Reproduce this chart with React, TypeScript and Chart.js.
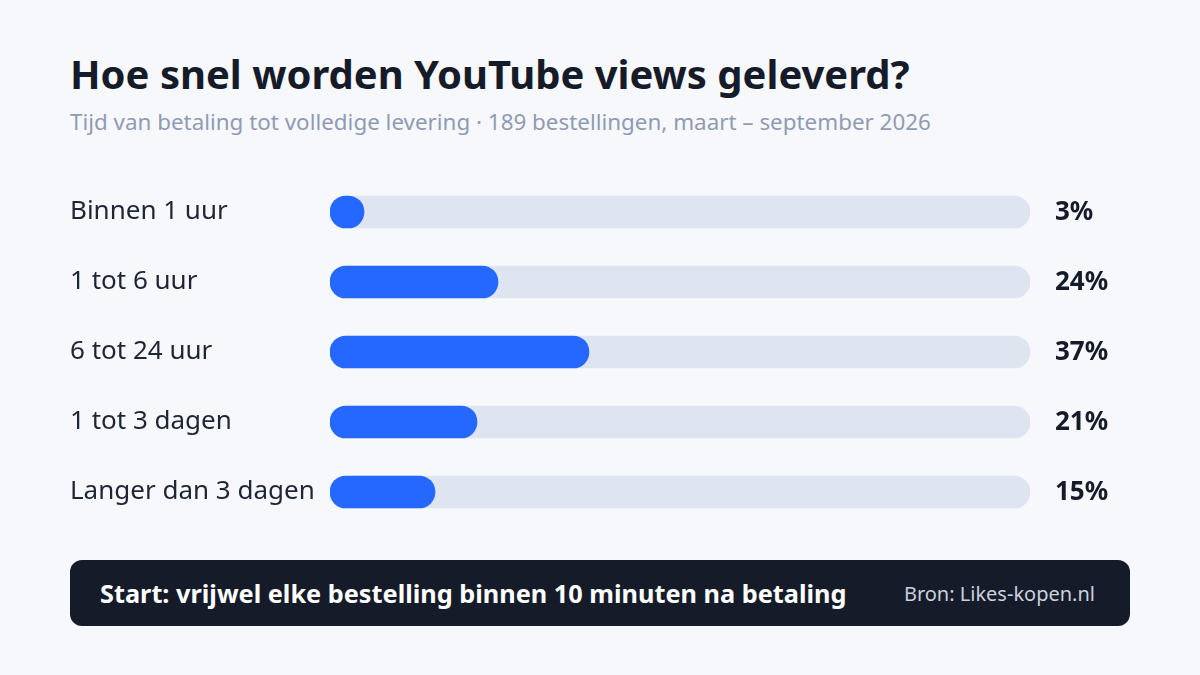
import React, { useEffect, useRef } from "react";
import { Chart, registerables } from "chart.js";

Chart.register(...registerables);

const categories = ["Binnen 1 uur", "1 tot 6 uur", "6 tot 24 uur", "1 tot 3 dagen", "Langer dan 3 dagen"];
const shares = [3, 24, 37, 21, 15];
const trackValues = [100, 100, 100, 100, 100];
const valueLabels = ["3%", "24%", "37%", "21%", "15%"];

const FONT = "'Noto Sans', 'Open Sans', sans-serif";

export default function App() {
  const ref = useRef<HTMLCanvasElement | null>(null);

  useEffect(() => {
    document.body.style.margin = "0";
    const canvas = ref.current;
    if (!canvas) return;

    const valuePlugin = {
      id: "valueLabels",
      afterDatasetsDraw(chart: any) {
        const ctx = chart.ctx;
        const meta = chart.getDatasetMeta(0);
        ctx.save();
        ctx.font = `700 26px ${FONT}`;
        ctx.fillStyle = "#161b29";
        ctx.textAlign = "left";
        ctx.textBaseline = "middle";
        meta.data.forEach((el: any, i: number) => {
          ctx.fillText(valueLabels[i], chart.chartArea.right + 25, el.y + 1);
        });
        ctx.restore();
      },
    };

    const chart = new Chart(canvas, {
      type: "bar",
      data: {
        labels: categories,
        datasets: [
          {
            data: shares,
            backgroundColor: "#2468ff",
            borderRadius: 16,
            borderSkipped: false,
            barThickness: 32,
            minBarLength: 34,
            grouped: false,
            order: 1,
          },
          {
            data: trackValues,
            backgroundColor: "#dfe5f0",
            borderRadius: 16,
            borderSkipped: false,
            barThickness: 32,
            grouped: false,
            order: 2,
          },
        ],
      },
      options: {
        indexAxis: "y",
        animation: false,
        responsive: false,
        devicePixelRatio: 1,
        layout: { padding: { left: 70, right: 170, top: 177, bottom: 148 } },
        plugins: { legend: { display: false }, tooltip: { enabled: false } },
        scales: {
          x: { display: false, min: 0, max: 100 },
          y: {
            grid: { display: false, drawTicks: false },
            border: { display: false },
            ticks: {
              crossAlign: "far",
              color: "#1e2535",
              font: { family: FONT, size: 26 },
              padding: 0,
            },
            afterFit(scale: any) {
              scale.width = 260;
            },
          },
        },
      },
      plugins: [valuePlugin],
    });
    return () => chart.destroy();
  }, []);

  return (
    <div
      style={{
        position: "fixed",
        left: 0,
        top: 0,
        width: 1200,
        height: 675,
        background: "#f6f8fb",
        fontFamily: FONT,
        overflow: "hidden",
      }}
    >
      <div
        style={{
          position: "absolute",
          left: 70,
          top: 50,
          fontSize: 40,
          fontWeight: 700,
          lineHeight: "48px",
          color: "#161b29",
          whiteSpace: "nowrap",
        }}
      >
        Hoe snel worden YouTube views geleverd?
      </div>
      <div
        style={{
          position: "absolute",
          left: 70,
          top: 106,
          fontSize: 22.4,
          lineHeight: "32px",
          color: "#909bb3",
          whiteSpace: "nowrap",
        }}
      >
        Tijd van betaling tot volledige levering · 189 bestellingen, maart – september 2026
      </div>
      <canvas ref={ref} width={1200} height={675} style={{ position: "absolute", left: 0, top: 0 }} />
      <div
        style={{
          position: "absolute",
          left: 70,
          top: 560,
          width: 1060,
          height: 66,
          borderRadius: 12,
          background: "#161b29",
          display: "flex",
          alignItems: "center",
          justifyContent: "space-between",
          padding: "0 35px 0 30px",
          boxSizing: "border-box",
        }}
      >
        <span style={{ color: "#ffffff", fontWeight: 700, fontSize: 25.3 }}>
          Start: vrijwel elke bestelling binnen 10 minuten na betaling
        </span>
        <span style={{ color: "#c9d1df", fontSize: 20 }}>Bron: Likes-kopen.nl</span>
      </div>
    </div>
  );
}
